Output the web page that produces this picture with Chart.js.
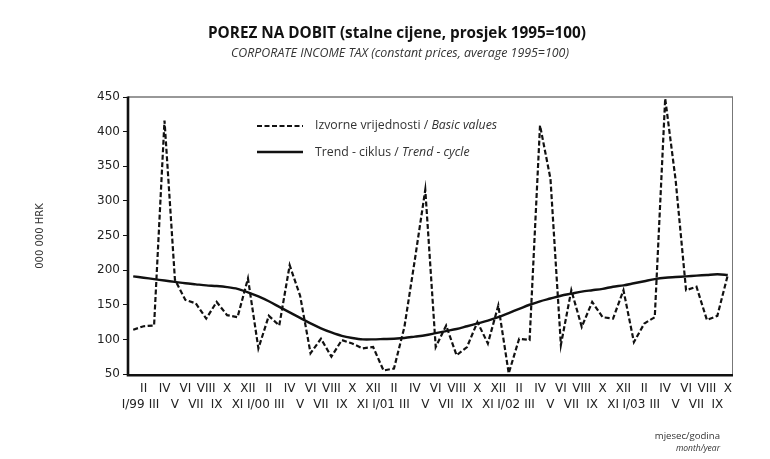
<!DOCTYPE html>
<html>
<head>
<meta charset="utf-8">
<script src="https://cdn.jsdelivr.net/npm/chart.js@4.4.1/dist/chart.umd.min.js"></script>
<style>
html,body{margin:0;padding:0;background:#fff;}
#wrap{width:770px;height:459px;}
</style>
</head>
<body>
<div id="wrap"><canvas id="c" width="770" height="459"></canvas></div>
<script>
// ---- data ----
const monthNames = ['I','II','III','IV','V','VI','VII','VIII','IX','X','XI','XII'];
const yearNames = ['99','00','01','02','03'];
const monthCount = 58; // I/99 .. X/03

const basicValues = [
  114,119,120,416,186,157,152,130,154,135,132,188,
  87,134,120,207,163,80,101,75,99,94,87,89,
  55,58,118,215,316,89,120,77,89,125,94,149,
  51,101,99,409,332,92,171,118,154,132,130,171,
  96,123,132,448,330,171,176,128,134,193
];
const trendValues = [
  191,189,187,185,183,181,179.5,178,177,175.5,173,168,
  162,155,147,139,131,123,116,110,105,102,100,100,
  100.5,101,102,104,106,109,112,115,119,123,127,132,
  138,144,150,155,159,163,166,169,171,173,176,178,
  181,184,187,189,190,191,192,193,194,193
];
const yTicks = [50,100,150,200,250,300,350,400,450];

const titleText = 'POREZ NA DOBIT (stalne cijene, prosjek 1995=100)';
const subtitleText = 'CORPORATE INCOME TAX (constant prices, average 1995=100)';
const yTitle = '000 000 HRK';
const legendBasic = ['Izvorne vrijednosti / ', 'Basic values'];
const legendTrend = ['Trend - ciklus / ', 'Trend - cycle'];

// categories: odd months (I, III, ...) on lower row, even months on upper row
const categories = [];
for (let i = 0; i < monthCount; i++) {
  const m = i % 12, y = Math.floor(i / 12);
  const txt = m === 0 ? monthNames[0] + '/' + yearNames[y] : monthNames[m];
  categories.push(m % 2 === 0 ? ['', txt] : [txt, '']);
}

const decor = {
  id: 'decor',
  afterDraw(chart) {
    const ctx = chart.ctx;
    const a = chart.chartArea;
    ctx.save();
    // frame
    ctx.lineCap = 'butt';
    ctx.strokeStyle = '#333'; ctx.lineWidth = 1.2;
    ctx.beginPath(); ctx.moveTo(a.left, a.top); ctx.lineTo(a.right, a.top); ctx.stroke();
    ctx.strokeStyle = '#777'; ctx.lineWidth = 1;
    ctx.beginPath(); ctx.moveTo(a.right - 0.5, a.top); ctx.lineTo(a.right - 0.5, a.bottom); ctx.stroke();
    ctx.strokeStyle = '#111'; ctx.lineWidth = 2.6;
    ctx.beginPath(); ctx.moveTo(a.left, a.top - 0.6); ctx.lineTo(a.left, a.bottom + 1.3); ctx.lineTo(a.right, a.bottom + 1.3); ctx.stroke();

    // titles
    ctx.fillStyle = '#111';
    ctx.textAlign = 'center'; ctx.textBaseline = 'middle';
    ctx.font = 'bold 15.3px "Open Sans"';
    ctx.fillText(titleText, 397, 34);
    ctx.fillStyle = '#333';
    ctx.font = 'italic 12.4px "Open Sans"';
    ctx.fillText(subtitleText, 400, 53);

    // y title
    ctx.save();
    ctx.translate(40, 236);
    ctx.rotate(-Math.PI / 2);
    ctx.font = '10px "DejaVu Sans"';
    ctx.fillStyle = '#333';
    ctx.fillText(yTitle, 0, 0);
    ctx.restore();

    // legend
    const lx0 = 257, lx1 = 303, tx = 315;
    ctx.strokeStyle = '#111';
    ctx.lineWidth = 2.2;
    ctx.setLineDash([5, 2.5]);
    ctx.beginPath(); ctx.moveTo(lx0, 126); ctx.lineTo(lx1, 126); ctx.stroke();
    ctx.setLineDash([]);
    ctx.lineWidth = 2.4;
    ctx.beginPath(); ctx.moveTo(lx0, 152); ctx.lineTo(lx1, 152); ctx.stroke();
    ctx.textAlign = 'left';
    ctx.fillStyle = '#333';
    const drawMixed = (parts, y) => {
      ctx.font = '12.3px "Open Sans"';
      ctx.fillText(parts[0], tx, y);
      const w = ctx.measureText(parts[0]).width;
      ctx.font = 'italic 12.3px "Open Sans"';
      ctx.fillText(parts[1], tx + w, y);
    };
    drawMixed(legendBasic, 125);
    drawMixed(legendTrend, 152);

    // footer
    ctx.textAlign = 'right';
    ctx.font = '9.6px "Open Sans"';
    ctx.fillStyle = '#333';
    ctx.fillText('mjesec/godina', 720, 436);
    ctx.font = 'italic 8.5px "Open Sans"';
    ctx.fillText('month/year', 720, 449);
    ctx.restore();
  }
};

new Chart(document.getElementById('c'), {
  type: 'line',
  data: {
    labels: categories,
    datasets: [
      {
        label: 'Izvorne vrijednosti / Basic values',
        data: basicValues,
        borderColor: '#111',
        borderWidth: 2.2,
        borderDash: [5, 2.5],
        pointRadius: 0,
        tension: 0,
        fill: false
      },
      {
        label: 'Trend - ciklus / Trend - cycle',
        data: trendValues,
        borderColor: '#111',
        borderWidth: 2.4,
        pointRadius: 0,
        tension: 0.3,
        fill: false
      }
    ]
  },
  options: {
    responsive: false,
    animation: false,
    devicePixelRatio: 1,
    layout: { padding: { top: 97, right: 37, left: 0, bottom: 45 } },
    plugins: { legend: { display: false }, tooltip: { enabled: false }, title: { display: false } },
    scales: {
      x: {
        type: 'category',
        offset: true,
        grid: { display: true, drawOnChartArea: false, drawTicks: false },
        border: { display: false },
        ticks: {
          autoSkip: false, maxRotation: 0, minRotation: 0, padding: 6,
          color: '#222', font: { family: 'DejaVu Sans', size: 12, lineHeight: 1.4 }
        },
        afterFit(scale) { scale.height = 40; }
      },
      y: {
        min: 50, max: 450,
        afterBuildTicks(scale) { scale.ticks = yTicks.map(v => ({ value: v })); },
        grid: { display: true, drawOnChartArea: false, drawTicks: true, tickLength: 5, color: '#111', lineWidth: 1 },
        border: { display: false },
        ticks: { padding: 3, color: '#222', font: { family: 'DejaVu Sans', size: 12 } },
        afterFit(scale) { scale.width = 128; }
      }
    }
  },
  plugins: [decor]
});
</script>
</body>
</html>
